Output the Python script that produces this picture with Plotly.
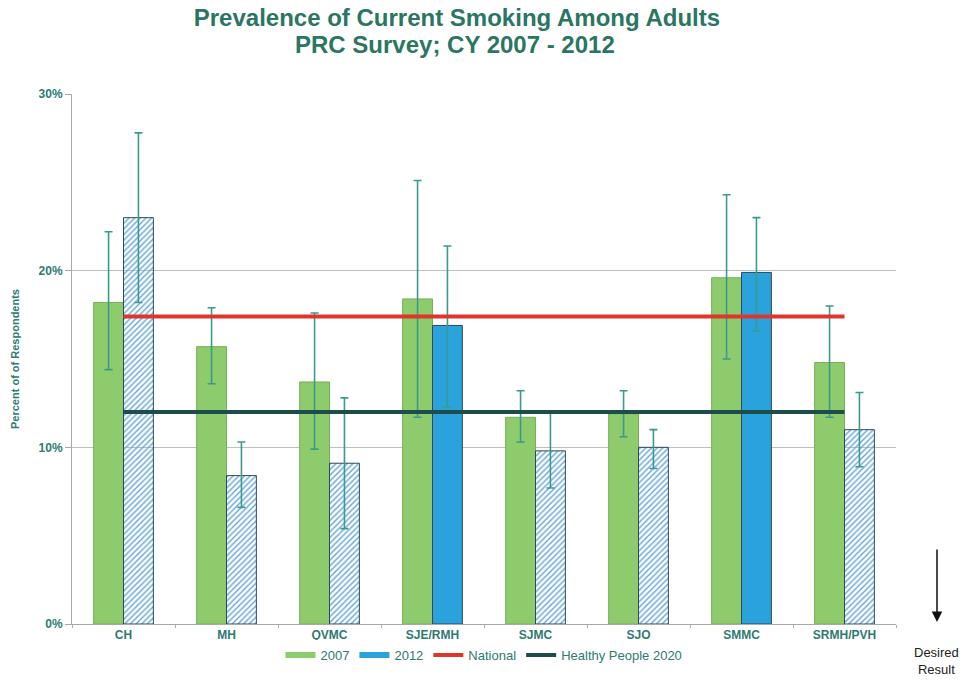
import plotly.graph_objects as go

categories = ["CH", "MH", "QVMC", "SJE/RMH", "SJMC", "SJO", "SMMC", "SRMH/PVH"]

val_2007 = [18.2, 15.7, 13.7, 18.4, 11.7, 11.9, 19.6, 14.8]
lo_2007 = [14.4, 13.6, 9.9, 11.7, 10.3, 10.6, 15.0, 11.7]
hi_2007 = [22.2, 17.9, 17.6, 25.1, 13.2, 13.2, 24.3, 18.0]

val_2012 = [23.0, 8.4, 9.1, 16.9, 9.8, 10.0, 19.9, 11.0]
lo_2012 = [18.2, 6.6, 5.4, 12.3, 7.7, 8.8, 16.6, 8.9]
hi_2012 = [27.8, 10.3, 12.8, 21.4, 12.0, 11.0, 23.0, 13.1]
significant_2012 = [False, False, False, True, False, False, True, False]

national = 17.4
healthy_people_2020 = 12.0

y_ticks = [0, 10, 20, 30]
y_tick_labels = ["0%", "10%", "20%", "30%"]

TEAL = "#2b7563"
TEXT = "#2e7a72"
ERR = "#3a9a8c"
GREEN = "#8dcb6c"
BLUE = "#2aa3dd"
HATCH_FG = "#5fa5d8"
HATCH_BG = "#f6fafd"

fig = go.Figure()

fig.add_trace(go.Bar(
    name="2007", x=categories, y=val_2007, legendgroup="2007", showlegend=False,
    marker=dict(color=GREEN, line=dict(color="#76b05a", width=1)),
    error_y=dict(type="data", symmetric=False,
                 array=[h - v for h, v in zip(hi_2007, val_2007)],
                 arrayminus=[v - l for v, l in zip(val_2007, lo_2007)],
                 color=ERR, thickness=1.6, width=4),
))

fig.add_trace(go.Bar(
    name="2012", x=categories, y=val_2012, legendgroup="2012", showlegend=False,
    marker=dict(
        color=[BLUE if s else HATCH_FG for s in significant_2012],
        line=dict(color="#2d4a5a", width=1),
        pattern=dict(shape=["" if s else "/" for s in significant_2012],
                     bgcolor=HATCH_BG, size=4, solidity=0.35, fillmode="replace"),
    ),
    error_y=dict(type="data", symmetric=False,
                 array=[h - v for h, v in zip(hi_2012, val_2012)],
                 arrayminus=[v - l for v, l in zip(val_2012, lo_2012)],
                 color=ERR, thickness=1.6, width=4),
))

# legend-only keys for the bar series (flat rectangle swatches)
fig.add_trace(go.Scatter(name="2007", legendgroup="2007", x=[None], y=[None],
                         mode="lines", line=dict(color=GREEN, width=6)))
fig.add_trace(go.Scatter(name="2012", legendgroup="2012", x=[None], y=[None],
                         mode="lines", line=dict(color=BLUE, width=6)))

fig.add_trace(go.Scatter(
    name="National", x=[categories[0], categories[-1]], y=[national, national],
    mode="lines", line=dict(color="#e0352a", width=4),
))
fig.add_trace(go.Scatter(
    name="Healthy People 2020", x=[categories[0], categories[-1]],
    y=[healthy_people_2020, healthy_people_2020],
    mode="lines", line=dict(color="#1d4d4a", width=4),
))

fig.update_layout(
    width=964, height=696,
    margin=dict(l=72, r=68, t=94, b=72),
    paper_bgcolor="white", plot_bgcolor="white",
    title=dict(
        text="<b>Prevalence of Current Smoking Among Adults</b>",
        x=0.474, xanchor="center", yref="container", y=1 - 18 / 696, yanchor="middle",
        font=dict(family="Liberation Sans, Arial", size=24, color=TEAL),
    ),
    barmode="group", bargap=0.42, bargroupgap=0.0,
    font=dict(family="Liberation Sans, Arial", color=TEXT),
    xaxis=dict(
        showline=True, linecolor="#a8a8a8", linewidth=1,
        tickfont=dict(size=12, color=TEXT, family="Liberation Sans, Arial"),
        ticks="outside", ticklen=3, tickcolor="#b0b0b0", tickson="boundaries",
        showgrid=False, automargin=False,
        tickprefix="<b>", ticksuffix="</b>",
    ),
    yaxis=dict(
        range=[0, 30], tickvals=y_ticks, ticktext=["<b>%s</b>" % t for t in y_tick_labels],
        showgrid=True, gridcolor="#b9c2bc", gridwidth=1,
        showline=True, linecolor="#a8a8a8", linewidth=1,
        ticks="outside", ticklen=6, tickcolor="#a8a8a8",
        tickfont=dict(size=12, color=TEXT),
        title=dict(text="<b>Percent of of Respondents</b>", font=dict(size=11, color=TEXT), standoff=16),
        zeroline=False, automargin=False,
    ),
    legend=dict(
        orientation="h", x=0.5, xanchor="center", yref="container", y=41 / 696, yanchor="middle",
        font=dict(size=13, color=TEXT), traceorder="normal",
        itemwidth=30, tracegroupgap=0,
    ),
    showlegend=True,
)

plot_w = 964 - 72 - 68
plot_h = 696 - 94 - 72
def px_x(px):
    return (px - 72) / plot_w
def py_y(py):
    return (696 - 72 - py) / plot_h

fig.add_annotation(
    xref="paper", yref="paper", x=px_x(455), y=py_y(45), xanchor="center", yanchor="middle",
    text="<b>PRC Survey; CY 2007 - 2012</b>", showarrow=False,
    font=dict(family="Liberation Sans, Arial", size=24, color=TEAL),
)

fig.add_annotation(
    xref="paper", yref="paper", axref="pixel", ayref="pixel",
    x=px_x(937), y=py_y(622), ax=0, ay=-74,
    text="", showarrow=True, arrowhead=2, arrowsize=1.4, arrowwidth=1.5, arrowcolor="#111111",
)
fig.add_annotation(
    xref="paper", yref="paper", x=px_x(936), y=py_y(643), yanchor="top", xanchor="center",
    text="Desired<br>Result", showarrow=False,
    font=dict(size=13, color="#222222", family="Liberation Sans, Arial"),
)

fig.write_html("out.html", config={"displayModeBar": False},
               post_script="document.body.style.margin='0px';")
